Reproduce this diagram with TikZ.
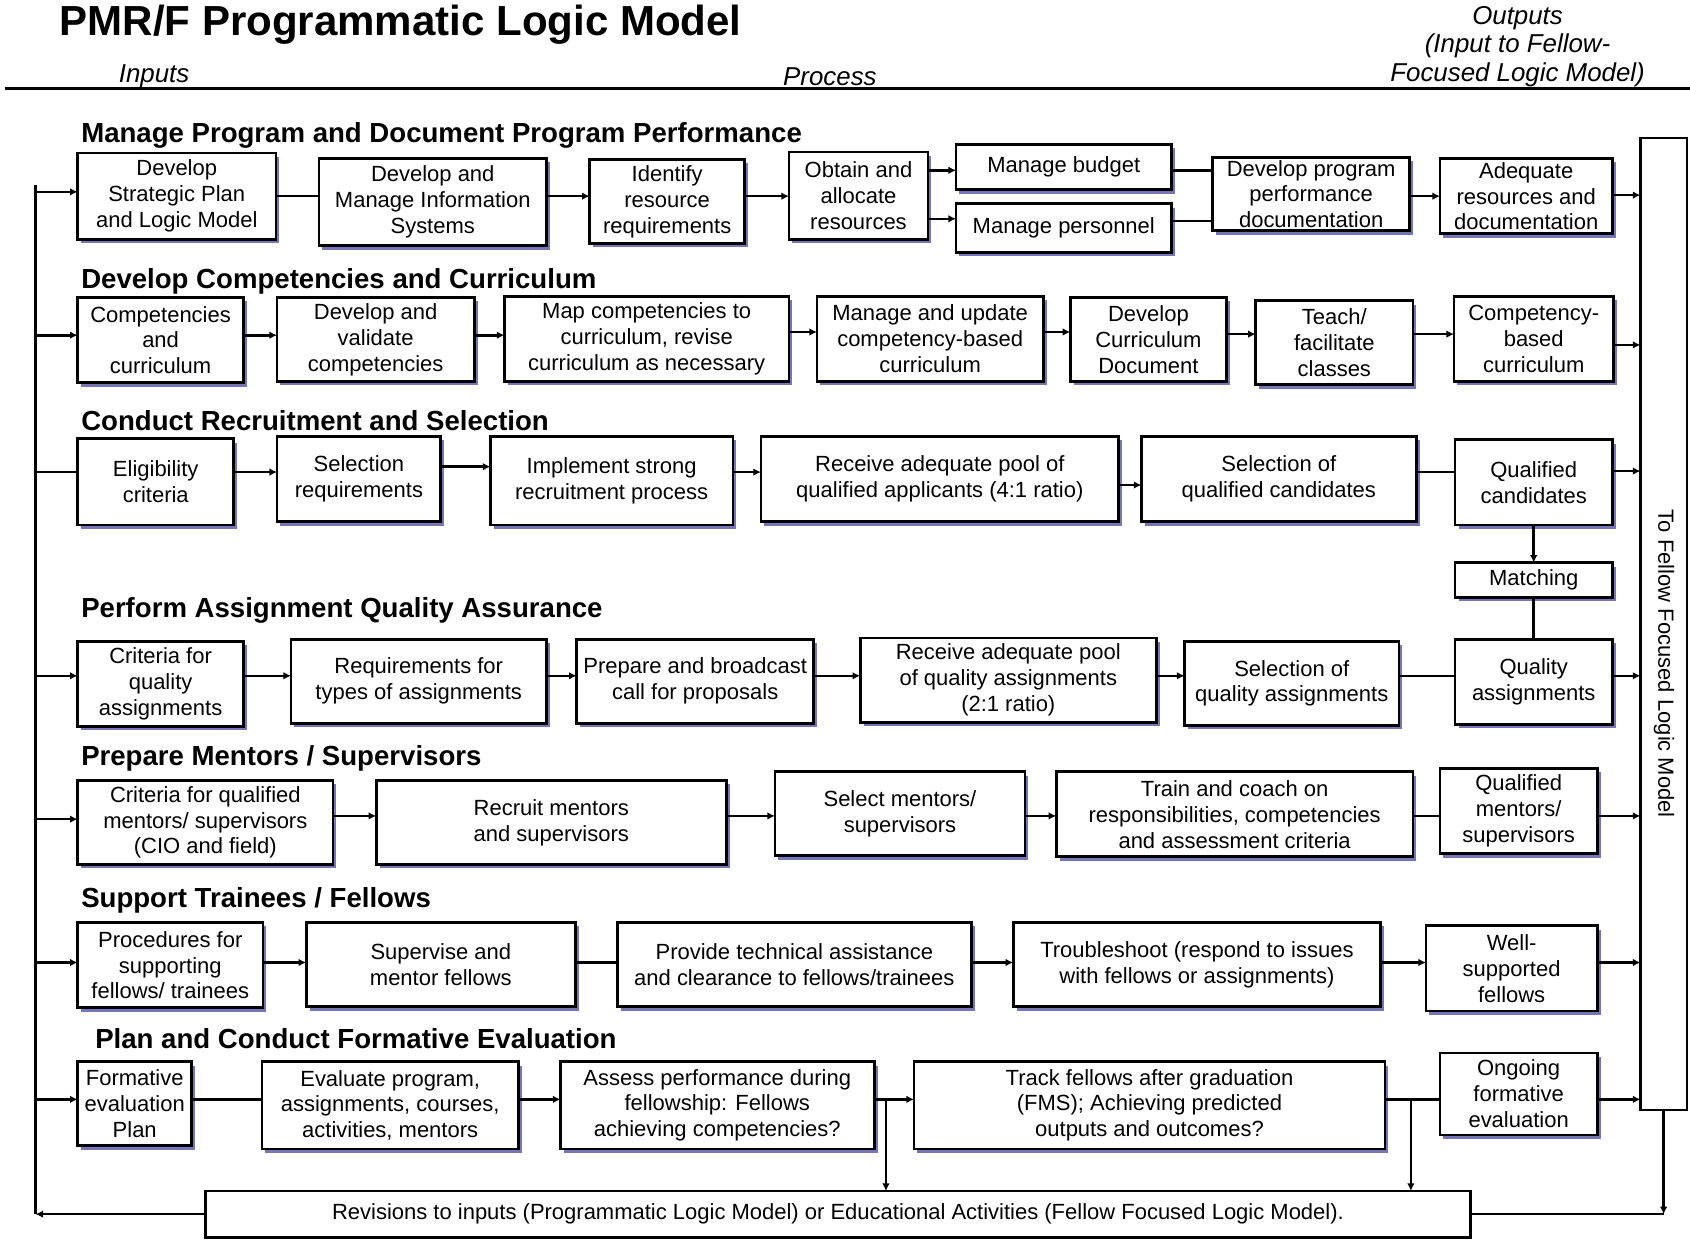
\documentclass[tikz,border=0pt]{standalone}
\usepackage{fontspec}
\setmainfont{Liberation Sans}
\usetikzlibrary{arrows.meta,shadows}
\definecolor{shadowc}{HTML}{7676B6}
\newcommand\lmBoxFont{\fontsize{10.2}{12}\selectfont}
\newcommand\lmHeadFont{\fontsize{12.8}{15}\selectfont\bfseries}
\newcommand\lmHdrFont{\fontsize{12}{13.3}\selectfont\itshape}
\newcommand\lmTitleFont{\fontsize{19.5}{22}\selectfont\bfseries}
\tikzset{
  box/.style={draw, line width=1.3pt, fill=white, inner sep=0pt, outer sep=0pt,
    align=center, font=\lmBoxFont,
    drop shadow={shadow xshift=1.6pt, shadow yshift=-1.8pt, fill=shadowc, opacity=1}},
  plainbox/.style={draw, line width=1.3pt, fill=white, inner sep=0pt, outer sep=0pt,
    align=center, font=\lmBoxFont},
  outbox/.style={draw, line width=1pt, inner sep=0pt, outer sep=0pt},
  ln/.style={line width=1.2pt},
  ar/.style={line width=1.2pt, -{Latex[length=3.5pt,width=3.5pt]}},
  head/.style={anchor=west, font=\lmHeadFont, inner sep=0pt},
  hdr/.style={font=\lmHdrFont, inner sep=0pt, align=center},
}
\newcommand\bx[7][box]{\node[#1, minimum width={(#5-#3)*0.5pt}, minimum height={(#6-#4)*0.5pt}] (#2) at ({(#3+#5)/2},{(#4+#6)/2}) {#7};}
\begin{document}
\begin{tikzpicture}[x=0.5pt,y=-0.5pt]
\useasboundingbox (0,0) rectangle (1568,1152);
\fill[white] (0,0) rectangle (1568,1152);

% header
\node[anchor=west, font=\lmTitleFont, inner sep=0pt] (title) at (55,23) {PMR/F Programmatic Logic Model};
\node[hdr] (inputs) at (143,71) {Inputs};
\node[hdr] (process) at (770,71) {Process};
\node[hdr] (outputs) at (1408,43) {Outputs\\(Input to Fellow-\\Focused Logic Model)};
\coordinate (hl1) at (5,82);
\coordinate (hl2) at (1568,82);
\draw[line width=1.6pt] (hl1) -- (hl2);

% headings
\node[head] (h1) at (75,126) {Manage Program and Document Program Performance};
\node[head] (h2) at (75,261) {Develop Competencies and Curriculum};
\node[head] (h3) at (75,390) {Conduct Recruitment and Selection};
\node[head] (h4) at (75,566) {Perform Assignment Quality Assurance};
\node[head] (h5) at (75,704) {Prepare Mentors / Supervisors};
\node[head] (h6) at (75,835) {Support Trainees / Fellows};
\node[head] (h7) at (88,964) {Plan and Conduct Formative Evaluation};

% row 1
\bx{B1}{72}{142}{256}{222}{Develop\\Strategic Plan\\and Logic Model}
\bx{B2}{296}{147}{507}{228}{Develop and\\Manage Information\\Systems}
\bx{B3}{547}{148}{691}{226}{Identify\\resource\\requirements}
\bx{B4}{732}{141}{861}{222}{Obtain and\\allocate\\resources}
\bx{B5}{887}{134}{1087}{176}{Manage budget}
\bx{B6}{887}{189}{1087}{234}{Manage personnel}
\bx{B7}{1125}{146}{1308}{214}{Develop program\\performance\\documentation}
\bx{B8}{1336}{147}{1496}{217}{Adequate\\resources and\\documentation}

% row 2
\bx{C1}{72}{276}{226}{355}{Competencies\\and\\curriculum}
\bx{C2}{257}{276}{440}{354}{Develop and\\validate\\competencies}
\bx{C3}{468}{275}{732}{354}{Map competencies to\\curriculum, revise\\curriculum as necessary}
\bx{C4}{758}{275}{968}{354}{Manage and update\\competency-based\\curriculum}
\bx{C5}{993}{276}{1138}{354}{Develop\\Curriculum\\Document}
\bx{C6}{1165}{279}{1311}{357}{Teach/\\facilitate\\classes}
\bx{C7}{1349}{275}{1497}{354}{Competency-\\based\\curriculum}

% row 3
\bx{D1}{72}{407}{217}{487}{Eligibility\\criteria}
\bx{D2}{257}{405}{409}{484}{Selection\\requirements}
\bx{D3}{455}{405}{680}{487}{Implement strong\\recruitment process}
\bx{D4}{706}{405}{1038}{484}{Receive adequate pool of\\qualified applicants (4:1 ratio)}
\bx{D5}{1059}{405}{1314}{484}{Selection of\\qualified candidates}
\bx{D6}{1350}{408}{1496}{487}{Qualified\\candidates}
\bx{M}{1350}{522}{1496}{554}{Matching}

% row 4
\bx{E1}{72}{595}{226}{674}{Criteria for\\quality\\assignments}
\bx{E2}{270}{593}{507}{671}{Requirements for\\types of assignments}
\bx{E3}{535}{593}{755}{671}{Prepare and broadcast\\call for proposals}
\bx{E4}{798}{592}{1073}{670}{Receive adequate pool\\of quality assignments\\(2:1 ratio)}
\bx{E5}{1099}{595}{1298}{673}{Selection of\\quality assignments}
\bx{E6}{1350}{593}{1496}{672}{Quality\\assignments}

% row 5
\bx{F1}{72}{724}{309}{802}{Criteria for qualified\\mentors/ supervisors\\(CIO and field)}
\bx{F2}{349}{724}{674}{802}{Recruit mentors\\and supervisors}
\bx{F3}{719}{716}{951}{794}{Select mentors/\\supervisors}
\bx{F4}{980}{716}{1311}{795}{Train and coach on\\responsibilities, competencies\\and assessment criteria}
\bx{F5}{1336}{713}{1482}{792}{Qualified\\mentors/\\supervisors}

% row 6
\bx{G1}{72}{856}{244}{935}{Procedures for\\supporting\\fellows/ trainees}
\bx{G2}{284}{856}{534}{934}{Supervise and\\mentor fellows}
\bx{G3}{573}{856}{901}{934}{Provide technical assistance\\and clearance to fellows/trainees}
\bx{G4}{940}{856}{1281}{934}{Troubleshoot (respond to issues\\with fellows or assignments)}
\bx{G5}{1323}{859}{1482}{938}{Well-\\supported\\fellows}

% row 7
\bx{H1}{72}{985}{178}{1063}{Formative\\evaluation\\Plan}
\bx{H2}{243}{985}{481}{1066}{Evaluate program,\\assignments, courses,\\activities, mentors}
\bx{H3}{520}{985}{811}{1066}{Assess performance during\\fellowship: Fellows\\achieving competencies?}
\bx{H4}{848}{985}{1285}{1066}{Track fellows after graduation\\(FMS); Achieving predicted\\outputs and outcomes?}
\bx{H5}{1336}{977}{1482}{1053}{Ongoing\\formative\\evaluation}

% revisions and output box
\bx[plainbox]{R}{191}{1105}{1364}{1148}{Revisions to inputs (Programmatic Logic Model) or Educational Activities (Fellow Focused Logic Model).}
\bx[outbox]{O}{1522}{128}{1565}{1030}{}
\node[rotate=-90, font=\lmBoxFont, inner sep=0pt] (Olab) at (1544,616) {To Fellow Focused Logic Model};

% left bus
\coordinate (ltop) at (33,172);
\coordinate (l1) at (33,178);
\coordinate (l2) at (33,311);
\coordinate (l3) at (33,438);
\coordinate (l4) at (33,627);
\coordinate (l5) at (33,760);
\coordinate (l6) at (33,893);
\coordinate (l7) at (33,1020);
\draw[ln] (ltop) -- (ltop |- R.west);

% row 1 connectors
\draw[ar] (l1) -- (l1 -| B1.west);
\draw[ln] (B1.east |- 0,182) -- (B2.west |- 0,182);
\draw[ar] (B2.east |- 0,182) -- (B3.west |- 0,182);
\draw[ar] (B3.east |- 0,182) -- (B4.west |- 0,182);
\draw[ar] (B4.east |- 0,158) -- (B5.west |- 0,158);
\draw[ar] (B4.east |- 0,203) -- (B6.west |- 0,203);
\draw[ln] (B5.east |- 0,158) -- (B7.west |- 0,158);
\draw[ln] (B6.east |- 0,205) -- (B7.west |- 0,205);
\draw[ar] (B7.east |- 0,182) -- (B8.west |- 0,182);
\draw[ar] (B8.east |- 0,181) -- (O.west |- 0,181);

% row 2 connectors
\draw[ar] (l2) -- (l2 -| C1.west);
\draw[ar] (C1.east |- 0,311) -- (C2.west |- 0,311);
\draw[ar] (C2.east |- 0,311) -- (C3.west |- 0,311);
\draw[ar] (C3.east |- 0,308) -- (C4.west |- 0,308);
\draw[ar] (C4.east |- 0,308) -- (C5.west |- 0,308);
\draw[ar] (C5.east |- 0,310) -- (C6.west |- 0,310);
\draw[ar] (C6.east |- 0,310) -- (C7.west |- 0,310);
\draw[ar] (C7.east |- 0,320) -- (O.west |- 0,320);

% row 3 connectors
\draw[ln] (l3) -- (l3 -| D1.west);
\draw[ar] (D1.east |- 0,438) -- (D2.west |- 0,438);
\draw[ar] (D2.east |- 0,433) -- (D3.west |- 0,433);
\draw[ar] (D3.east |- 0,438) -- (D4.west |- 0,438);
\draw[ar] (D4.east |- 0,450) -- (D5.west |- 0,450);
\draw[ln] (D5.east |- 0,438) -- (D6.west |- 0,438);
\draw[ar] (D6.east |- 0,437) -- (O.west |- 0,437);
\draw[ar] (D6.south) -- (M.north);
\draw[ln] (M.south) -- (E6.north);

% row 4 connectors
\draw[ar] (l4) -- (l4 -| E1.west);
\draw[ar] (E1.east |- 0,627) -- (E2.west |- 0,627);
\draw[ar] (E2.east |- 0,627) -- (E3.west |- 0,627);
\draw[ar] (E3.east |- 0,627) -- (E4.west |- 0,627);
\draw[ar] (E4.east |- 0,627) -- (E5.west |- 0,627);
\draw[ln] (E5.east |- 0,627) -- (E6.west |- 0,627);
\draw[ar] (E6.east |- 0,627) -- (O.west |- 0,627);

% row 5 connectors
\draw[ar] (l5) -- (l5 -| F1.west);
\draw[ar] (F1.east |- 0,757) -- (F2.west |- 0,757);
\draw[ar] (F2.east |- 0,757) -- (F3.west |- 0,757);
\draw[ar] (F3.east |- 0,757) -- (F4.west |- 0,757);
\draw[ln] (F4.east |- 0,757) -- (F5.west |- 0,757);
\draw[ar] (F5.east |- 0,757) -- (O.west |- 0,757);

% row 6 connectors
\draw[ar] (l6) -- (l6 -| G1.west);
\draw[ar] (G1.east |- 0,893) -- (G2.west |- 0,893);
\draw[ln] (G2.east |- 0,893) -- (G3.west |- 0,893);
\draw[ar] (G3.east |- 0,893) -- (G4.west |- 0,893);
\draw[ar] (G4.east |- 0,893) -- (G5.west |- 0,893);
\draw[ar] (G5.east |- 0,893) -- (O.west |- 0,893);

% row 7 connectors
\draw[ar] (l7) -- (l7 -| H1.west);
\draw[ln] (H1.east |- 0,1020) -- (H2.west |- 0,1020);
\draw[ar] (H2.east |- 0,1020) -- (H3.west |- 0,1020);
\draw[ar] (H3.east |- 0,1020) -- (H4.west |- 0,1020);
\draw[ln] (H4.east |- 0,1020) -- (H5.west |- 0,1020);
\draw[ar] (H5.east |- 0,1020) -- (O.west |- 0,1020);
\coordinate (j1) at (822,1020);
\coordinate (j2) at (1309,1020);
\draw[ar] (j1) -- (j1 |- R.north);
\draw[ar] (j2) -- (j2 |- R.north);

% feedback
\draw[ar] (O.south) -- (O.south |- R.east);
\draw[ln] (O.south |- R.east) -- (R.east);
\draw[ar] (R.west) -- (R.west -| l1);
\end{tikzpicture}
\end{document}
